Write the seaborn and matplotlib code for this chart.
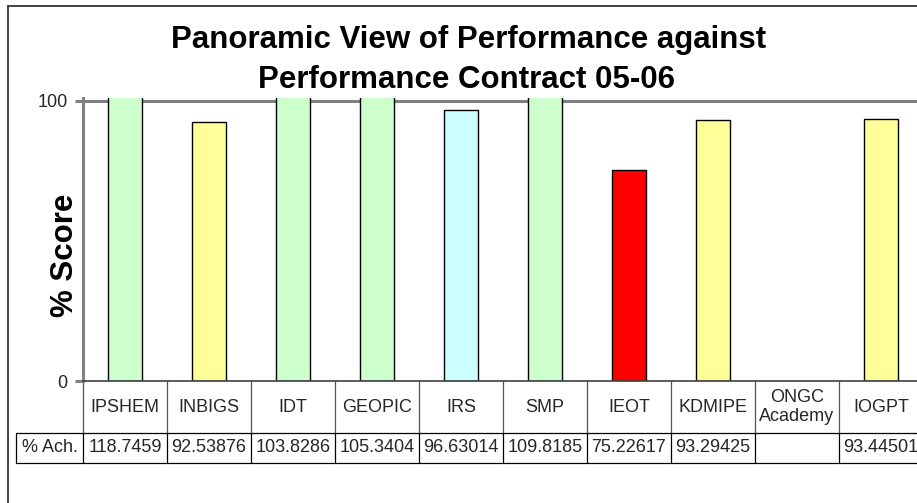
import numpy as np
import pandas as pd
import matplotlib
matplotlib.use("Agg")
import matplotlib.pyplot as plt
import seaborn as sns
from matplotlib.lines import Line2D
from matplotlib.transforms import blended_transform_factory

categories = ["IPSHEM", "INBIGS", "IDT", "GEOPIC", "IRS", "SMP", "IEOT",
              "KDMIPE", "ONGC\nAcademy", "IOGPT"]
values = [118.7459, 92.53876, 103.8286, 105.3404, 96.63014, 109.8185,
          75.22617, 93.29425, np.nan, 93.44501]
bar_colors = ["#CCFFCC", "#FFFF99", "#CCFFCC", "#CCFFCC", "#CCFFFF",
              "#CCFFCC", "#FF0000", "#FFFF99", "#FFFFFF", "#FFFF99"]
title_lines = ["Panoramic View of Performance against",
               "Performance Contract 05-06"]
y_label = "% Score"
row_label = "% Ach."
y_ticks = [0, 100]

W, H = 917, 503
sns.set_theme(style="white")
plt.rcParams["font.family"] = ["Liberation Sans", "DejaVu Sans"]

fig = plt.figure(figsize=(W / 100, H / 100), dpi=100)
fig.patch.set_facecolor("white")

def fx(px):
    return px / W

def fy(py):
    return 1 - py / H

ax_left, ax_bottom_px, ax_top_px, cell_w = 83, 381, 98, 84
ax = fig.add_axes([fx(ax_left), fy(ax_bottom_px), fx(cell_w * len(categories)),
                   (ax_bottom_px - ax_top_px) / H])

df = pd.DataFrame({"cat": categories, "val": values})
sns.barplot(data=df, x="cat", y="val", hue="cat", order=categories,
            palette=dict(zip(categories, bar_colors)), legend=False,
            saturation=1, width=0.4, edgecolor="black", linewidth=1.0, ax=ax)

ax.set_xlim(-0.5, len(categories) - 0.5)
ax.set_ylim(0, 101.07)
ax.set_yticks(y_ticks)
ax.set_yticklabels([str(t) for t in y_ticks], fontsize=13)
ax.tick_params(axis="y", direction="out", length=6, width=2.2,
               color="#808080", pad=5, left=True)
ax.tick_params(axis="x", length=0, labelbottom=False)
ax.set_xlabel("")
ax.set_ylabel("")
for s in ["top", "right"]:
    ax.spines[s].set_visible(False)
ax.spines["left"].set_color("#808080")
ax.spines["left"].set_linewidth(2.2)
ax.spines["bottom"].set_color("#404040")
ax.spines["bottom"].set_linewidth(1.2)
ax.axhline(100, color="#808080", lw=2.2, zorder=0.5)

# figure border (left and top)
fig.add_artist(Line2D([fx(8), fx(8)], [fy(6), fy(503)], color="#333333", lw=1.3))
fig.add_artist(Line2D([fx(8), fx(917)], [fy(6), fy(6)], color="#333333", lw=1.3))

# titles
fig.text(fx(469), fy(40), title_lines[0], ha="center", va="center",
         fontsize=22.5, fontweight="bold", color="black")
fig.text(fx(466), fy(80), title_lines[1], ha="center", va="center",
         fontsize=22.5, fontweight="bold", color="black")
fig.text(fx(65), fy(255), y_label, ha="center", va="center", rotation=90,
         fontsize=22.5, fontweight="bold", color="black")

# data table
tr = blended_transform_factory(ax.transData, fig.transFigure)
row1_top, row1_bot, row2_bot = 381, 433, 463
n = len(categories)
for k in range(n + 1):
    xk = k - 0.5
    ax.add_artist(Line2D([xk, xk], [fy(row1_top), fy(row1_bot)], transform=tr,
                         color="#555555", lw=0.9, clip_on=False))
    ax.add_artist(Line2D([xk, xk], [fy(row1_bot), fy(row2_bot)], transform=tr,
                         color="black", lw=0.9, clip_on=False))
for yy in [row1_bot, row2_bot]:
    fig.add_artist(Line2D([fx(16), 1.0], [fy(yy), fy(yy)], color="black", lw=0.9))
fig.add_artist(Line2D([fx(16), fx(16)], [fy(row1_bot), fy(row2_bot)],
                      color="black", lw=0.9))
fig.text(fx(49.5), fy((row1_bot + row2_bot) / 2), row_label, ha="center",
         va="center", fontsize=13)
for i, (c, v) in enumerate(zip(categories, values)):
    ax.text(i, fy((row1_top + row1_bot) / 2), c, transform=tr, ha="center",
            va="center", fontsize=13, clip_on=False, linespacing=1.1)
    if not np.isnan(v):
        ax.text(i, fy((row1_bot + row2_bot) / 2), "%.7g" % v, transform=tr,
                ha="center", va="center", fontsize=13, clip_on=False)

fig.savefig("out.png", dpi=100, facecolor="white")
